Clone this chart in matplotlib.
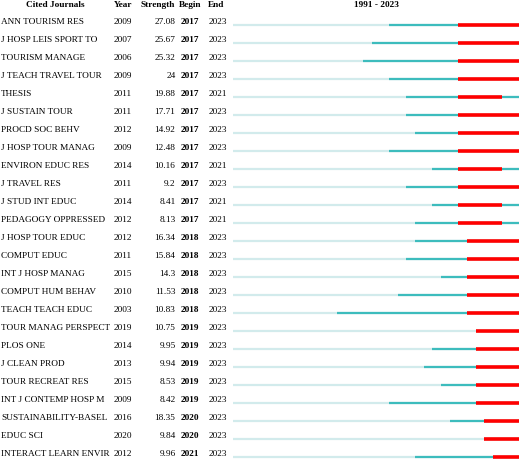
import numpy as np
import matplotlib
matplotlib.use('Agg')
import matplotlib.pyplot as plt

## burst data
journals = ['ANN TOURISM RES', 'J HOSP LEIS SPORT TO', 'TOURISM MANAGE', 'J TEACH TRAVEL TOUR',
            'THESIS', 'J SUSTAIN TOUR', 'PROCD SOC BEHV', 'J HOSP TOUR MANAG',
            'ENVIRON EDUC RES', 'J TRAVEL RES', 'J STUD INT EDUC', 'PEDAGOGY OPPRESSED',
            'J HOSP TOUR EDUC', 'COMPUT EDUC', 'INT J HOSP MANAG', 'COMPUT HUM BEHAV',
            'TEACH TEACH EDUC', 'TOUR MANAG PERSPECT', 'PLOS ONE', 'J CLEAN PROD',
            'TOUR RECREAT RES', 'INT J CONTEMP HOSP M', 'SUSTAINABILITY-BASEL', 'EDUC SCI',
            'INTERACT LEARN ENVIR']
years = [2009, 2007, 2006, 2009, 2011, 2011, 2012, 2009, 2014, 2011, 2014, 2012,
         2012, 2011, 2015, 2010, 2003, 2019, 2014, 2013, 2015, 2009, 2016, 2020, 2012]
strength = ['27.08', '25.67', '25.32', '24', '19.88', '17.71', '14.92', '12.48', '10.16', '9.2',
            '8.41', '8.13', '16.34', '15.84', '14.3', '11.53', '10.83', '10.75', '9.95', '9.94',
            '8.53', '8.42', '18.35', '9.84', '9.96']
begin = [2017] * 12 + [2018] * 5 + [2019] * 5 + [2020, 2020, 2021]
end = [2023, 2023, 2023, 2023, 2021, 2023, 2023, 2023, 2021, 2023, 2021, 2021,
       2023, 2023, 2023, 2023, 2023, 2023, 2023, 2023, 2023, 2023, 2023, 2023, 2023]
first_year, last_year = 1991, 2023

W, H = 520, 459
fig = plt.figure(figsize=(W / 100, H / 100), dpi=100)
plt.rcParams['font.family'] = ['Liberation Serif', 'DejaVu Serif']

n = len(journals)
# row i sits at pixel 25 + 18*i
y_top = -25 / 18
y_bot = (H - 25) / 18

# table part
ax_t = fig.add_axes([0, 0, 1, 1])
ax_t.set_xlim(0, W)
ax_t.set_ylim(y_bot, y_top)
ax_t.axis('off')

fs = 6.7
hy = y_top + 5 / 18
ax_t.text(55, hy, 'Cited Journals', ha='center', va='center', fontsize=fs, fontweight='bold')
ax_t.text(123, hy, 'Year', ha='center', va='center', fontsize=fs, fontweight='bold')
ax_t.text(158, hy, 'Strength', ha='center', va='center', fontsize=fs, fontweight='bold')
ax_t.text(190, hy, 'Begin', ha='center', va='center', fontsize=fs, fontweight='bold')
ax_t.text(216, hy, 'End', ha='center', va='center', fontsize=fs, fontweight='bold')
ax_t.text(376, hy, f'{first_year} - {last_year}', ha='center', va='center', fontsize=fs, fontweight='bold')

for i in range(n):
    ty = i - 3.5 / 18
    ax_t.text(1, ty, journals[i], ha='left', va='center', fontsize=fs)
    ax_t.text(114, ty, str(years[i]), ha='left', va='center', fontsize=fs)
    ax_t.text(175.5, ty, strength[i], ha='right', va='center', fontsize=fs)
    ax_t.text(181, ty, str(begin[i]), ha='left', va='center', fontsize=fs, fontweight='bold')
    ax_t.text(209, ty, str(end[i]), ha='left', va='center', fontsize=fs)

# burst bars
ax_b = fig.add_axes([233 / W, 0, (519 - 233) / W, 1])
ax_b.set_xlim(first_year, last_year + 1)
ax_b.set_ylim(y_bot, y_top)
ax_b.axis('off')

for i in range(n):
    ax_b.plot([first_year, last_year + 1], [i, i], color='#d2ebec', lw=1.6, solid_capstyle='butt')
    ax_b.plot([years[i], last_year + 1], [i, i], color='#3dbcbd', lw=1.6, solid_capstyle='butt')
    ax_b.plot([begin[i], end[i] + 1], [i, i], color='#ff0000', lw=2.6, solid_capstyle='butt')

fig.savefig('out.png', dpi=100)
